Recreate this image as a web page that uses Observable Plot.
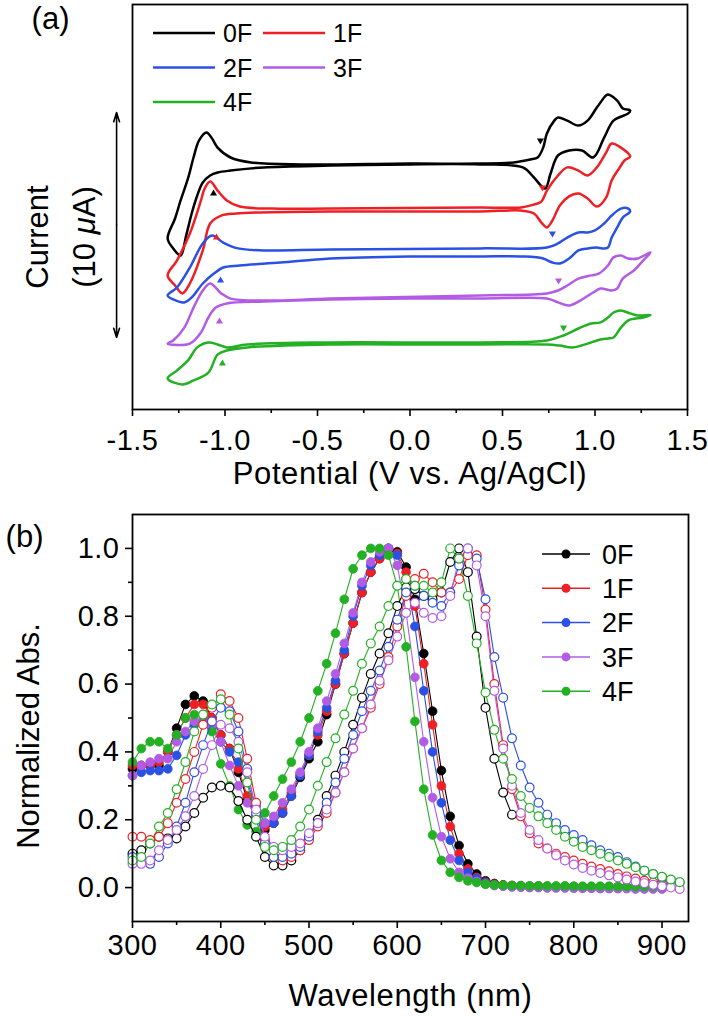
<!DOCTYPE html>
<html><head><meta charset="utf-8">
<script src="https://cdn.jsdelivr.net/npm/d3@7"></script>
<script src="https://cdn.jsdelivr.net/npm/@observablehq/plot@0.6"></script>
<style>
body{margin:0;background:#fff;}
#chart{width:708px;}
#chart svg{display:block;}
</style></head><body><div id="chart"></div>
<script>
const series = ["0F","1F","2F","3F","4F"];
const colors = ["#000000","#ef1f26","#2a50e4","#b25ce6","#23b023"];
const FONT = "'Liberation Sans', Arial, Helvetica, sans-serif";

// ---------- (a) cyclic voltammograms: [potential V, current µA (offset)] ----------
const cv0F = [[0.00,10.89],[-0.43,10.84],[-0.79,10.76],[-0.97,10.62],[-1.04,10.53],[-1.08,10.40],[-1.12,10.09],[-1.15,9.51],[-1.18,8.71],[-1.21,7.73],[-1.24,6.84],[-1.28,7.16],[-1.31,7.60],[-1.27,8.49],[-1.24,9.29],[-1.20,10.27],[-1.17,11.20],[-1.14,11.96],[-1.10,12.31],[-1.07,12.04],[-1.04,11.64],[-0.97,11.20],[-0.86,10.98],[-0.59,10.89],[0.00,10.93],[0.38,10.93],[0.56,10.98],[0.65,11.11],[0.69,11.20],[0.72,11.64],[0.74,12.27],[0.78,12.84],[0.80,12.98],[0.85,12.84],[0.91,12.62],[0.96,12.84],[1.01,13.42],[1.06,13.96],[1.07,14.00],[1.12,13.73],[1.15,13.38],[1.19,13.29],[1.18,13.16],[1.10,12.84],[1.05,12.09],[0.99,11.20],[0.93,11.51],[0.86,11.51],[0.80,11.29],[0.76,10.49],[0.73,9.82],[0.67,10.31],[0.61,10.76],[0.38,10.89],[0.00,10.89]];
const cv1F = [[0.00,8.80],[-0.43,8.80],[-0.81,8.76],[-0.94,8.71],[-1.02,8.62],[-1.08,8.27],[-1.12,7.07],[-1.19,5.60],[-1.23,5.16],[-1.27,5.51],[-1.31,5.96],[-1.26,6.62],[-1.19,7.82],[-1.13,9.29],[-1.11,9.82],[-1.08,10.13],[-1.04,9.73],[-0.99,9.29],[-0.92,9.02],[-0.75,8.93],[-0.43,8.93],[0.38,8.98],[0.60,8.98],[0.67,9.11],[0.71,9.24],[0.74,9.73],[0.80,10.40],[0.85,10.76],[0.91,10.62],[0.96,10.40],[1.01,10.76],[1.06,11.42],[1.09,11.82],[1.14,11.64],[1.19,11.24],[1.16,11.07],[1.13,10.71],[1.09,10.18],[1.06,9.42],[1.01,9.02],[0.96,9.38],[0.91,9.60],[0.86,9.47],[0.81,9.07],[0.77,8.40],[0.74,8.09],[0.71,8.31],[0.67,8.71],[0.60,8.84],[0.38,8.80],[0.00,8.80]];
const cv2F = [[0.00,6.80],[-0.43,6.71],[-0.70,6.53],[-0.92,6.40],[-1.01,6.31],[-1.06,6.04],[-1.12,5.60],[-1.18,4.98],[-1.22,4.76],[-1.28,4.89],[-1.31,5.07],[-1.26,5.42],[-1.19,6.31],[-1.12,7.38],[-1.07,7.73],[-1.01,7.42],[-0.93,7.16],[-0.79,7.07],[-0.43,7.11],[0.38,7.16],[0.74,7.20],[0.80,7.38],[0.85,7.64],[0.91,7.87],[0.96,7.87],[1.00,7.96],[1.05,8.27],[1.09,8.62],[1.14,8.93],[1.18,8.93],[1.19,8.80],[1.15,8.53],[1.12,8.09],[1.09,7.64],[1.07,7.20],[1.04,7.16],[1.01,7.20],[0.96,7.16],[0.91,7.07],[0.86,6.71],[0.81,6.49],[0.77,6.53],[0.72,6.71],[0.61,6.80],[0.38,6.80],[0.00,6.80]];
const cv3F = [[0.00,4.93],[-0.43,4.89],[-0.79,4.80],[-0.99,4.71],[-1.05,4.53],[-1.09,4.09],[-1.13,3.42],[-1.19,2.93],[-1.31,2.93],[-1.28,3.07],[-1.22,3.64],[-1.17,4.53],[-1.12,5.29],[-1.08,5.60],[-1.02,5.16],[-0.97,4.93],[-0.79,4.84],[-0.43,4.93],[0.38,5.07],[0.74,5.16],[0.80,5.29],[0.85,5.51],[0.91,5.82],[0.98,5.96],[1.02,6.04],[1.07,6.40],[1.10,6.76],[1.14,6.84],[1.18,6.71],[1.23,6.71],[1.30,6.98],[1.26,6.62],[1.21,6.18],[1.15,5.82],[1.12,5.38],[1.09,5.29],[1.03,5.38],[0.99,5.20],[0.92,4.84],[0.86,4.62],[0.80,4.76],[0.74,4.93],[0.38,4.93],[0.00,4.93]];
const cv4F = [[0.00,2.89],[-0.43,2.89],[-0.88,2.76],[-0.99,2.62],[-1.04,2.44],[-1.09,1.64],[-1.17,1.29],[-1.23,1.11],[-1.31,1.38],[-1.26,1.73],[-1.20,2.18],[-1.15,2.76],[-1.09,2.98],[-1.04,2.89],[-0.99,2.76],[-0.88,2.89],[-0.43,2.98],[0.38,2.98],[0.74,3.07],[0.83,3.29],[0.91,3.60],[0.98,3.82],[1.03,3.87],[1.07,4.09],[1.10,4.31],[1.14,4.40],[1.19,4.27],[1.23,4.18],[1.30,4.20],[1.26,4.09],[1.18,3.96],[1.14,3.64],[1.10,3.20],[1.07,3.16],[1.01,3.07],[0.96,2.93],[0.88,2.76],[0.81,2.84],[0.74,2.89],[0.38,2.89],[0.00,2.89]];
const cvAll = [cv0F, cv1F, cv2F, cv3F, cv4F];
// onset markers
const onsetOxV = [0.705, 0.716, 0.770, 0.803, 0.830];
const onsetOxI = [11.96, 9.87, 7.82, 5.73, 3.64];
const onsetRedV = [-1.062, -1.046, -1.024, -1.030, -1.014];
const onsetRedI = [9.60, 7.64, 5.73, 3.91, 2.04];
// scale bar (10 µA)
const scaleBarV = -1.586, scaleBarLow = 3.2, scaleBarSpan = 10;
const potTicks = [-1.5,-1.0,-0.5,0.0,0.5,1.0,1.5];
const potMinor = [-1.25,-0.75,-0.25,0.25,0.75,1.25];

// ---------- (b) absorption spectra ----------
const wavelengths = [300,310,320,330,340,350,360,370,380,390,400,410,420,430,440,450,460,470,480,490,500,510,520,530,540,550,560,570,580,590,600,610,620,630,640,650,660,670,680,690,700,710,720,730,740,750,760,770,780,790,800,810,820,830,840,850,860,870,880,890,900,910,920];
const sol0F = [0.35,0.36,0.36,0.36,0.40,0.47,0.54,0.565,0.55,0.50,0.45,0.41,0.34,0.26,0.21,0.17,0.19,0.22,0.27,0.325,0.38,0.43,0.51,0.60,0.69,0.78,0.87,0.93,0.97,1.0,0.99,0.945,0.85,0.69,0.52,0.345,0.21,0.124,0.07,0.04,0.02,0.012,0.008,0.006,0.005,0.004,0.004,0.003,0.003,0.003,0.003,0.002,0.002,0.002,0.002,0.002,0.002,0.001,0.001,0.001,0.001];
const sol1F = [0.36,0.36,0.36,0.37,0.40,0.45,0.50,0.54,0.54,0.50,0.45,0.41,0.35,0.27,0.21,0.18,0.19,0.23,0.28,0.335,0.39,0.45,0.52,0.60,0.69,0.78,0.87,0.93,0.97,1.0,0.985,0.93,0.83,0.66,0.48,0.30,0.18,0.10,0.055,0.03,0.016,0.01,0.007,0.005,0.004,0.003,0.003,0.003,0.002,0.002,0.002,0.002,0.002,0.001,0.001,0.001,0.001,0.001,0.0,0.0,0.0];
const sol2F = [0.33,0.34,0.345,0.345,0.35,0.39,0.45,0.48,0.49,0.47,0.43,0.40,0.37,0.31,0.24,0.19,0.19,0.22,0.27,0.33,0.39,0.46,0.53,0.61,0.70,0.80,0.89,0.95,0.98,1.0,0.98,0.91,0.77,0.58,0.40,0.25,0.14,0.08,0.045,0.027,0.014,0.008,0.005,0.003,0.002,0.001,0.001,0.0,0.0,0.0,-0.001,-0.001,-0.001,-0.002,-0.002,-0.002,-0.002,-0.003,-0.003,-0.003,-0.003];
const sol3F = [0.33,0.36,0.37,0.38,0.38,0.43,0.46,0.49,0.50,0.48,0.43,0.36,0.30,0.25,0.21,0.19,0.21,0.25,0.29,0.34,0.40,0.47,0.55,0.63,0.72,0.81,0.90,0.96,0.99,1.0,0.95,0.81,0.62,0.43,0.265,0.15,0.085,0.045,0.028,0.018,0.01,0.006,0.004,0.002,0.001,0.0,0.0,-0.001,-0.001,-0.001,-0.002,-0.002,-0.002,-0.003,-0.003,-0.003,-0.003,-0.004,-0.004,-0.004,-0.004];
const sol4F = [0.37,0.41,0.43,0.43,0.41,0.45,0.50,0.51,0.51,0.46,0.365,0.30,0.23,0.185,0.165,0.22,0.27,0.32,0.37,0.43,0.50,0.58,0.66,0.75,0.85,0.94,0.98,1.0,1.0,0.98,0.89,0.71,0.49,0.29,0.155,0.08,0.045,0.03,0.02,0.015,0.01,0.008,0.007,0.006,0.006,0.005,0.005,0.005,0.005,0.005,0.004,0.004,0.004,0.004,0.004,0.003,0.003,0.003,0.003,0.003,0.003];
const film0F = [0.10,0.11,0.13,0.15,0.145,0.145,0.18,0.22,0.265,0.295,0.30,0.295,0.255,0.20,0.15,0.09,0.065,0.065,0.08,0.11,0.15,0.20,0.27,0.33,0.40,0.48,0.56,0.63,0.69,0.75,0.83,0.885,0.88,0.86,0.85,0.87,0.96,1.0,0.93,0.74,0.53,0.38,0.28,0.215];
const film1F = [0.15,0.15,0.14,0.15,0.19,0.25,0.32,0.40,0.48,0.53,0.57,0.55,0.50,0.38,0.25,0.14,0.09,0.08,0.09,0.11,0.14,0.18,0.22,0.28,0.34,0.41,0.47,0.53,0.60,0.68,0.77,0.86,0.91,0.925,0.90,0.87,0.87,0.91,0.98,0.98,0.82,0.60,0.42,0.29,0.21,0.16,0.13,0.115,0.10,0.09,0.08,0.07,0.062,0.055,0.048,0.04,0.033,0.027,0.02,0.015,0.01];
const film2F = [0.09,0.08,0.07,0.09,0.13,0.18,0.25,0.34,0.42,0.49,0.53,0.52,0.46,0.35,0.22,0.13,0.09,0.09,0.10,0.12,0.15,0.19,0.25,0.31,0.38,0.45,0.52,0.58,0.64,0.71,0.79,0.87,0.89,0.86,0.84,0.83,0.87,0.95,1.0,0.97,0.85,0.68,0.56,0.44,0.36,0.295,0.25,0.215,0.19,0.17,0.155,0.14,0.125,0.11,0.10,0.09,0.075,0.062,0.05,0.04,0.03,0.022,0.015];
const film3F = [0.07,0.07,0.08,0.11,0.14,0.17,0.21,0.27,0.35,0.42,0.48,0.47,0.43,0.34,0.23,0.15,0.12,0.11,0.12,0.13,0.16,0.19,0.23,0.28,0.34,0.41,0.47,0.54,0.61,0.67,0.74,0.81,0.84,0.81,0.795,0.80,0.86,0.97,1.0,0.95,0.80,0.58,0.41,0.30,0.22,0.17,0.14,0.115,0.095,0.08,0.068,0.058,0.05,0.043,0.036,0.03,0.024,0.018,0.013,0.008,0.004,0.0,-0.004];
const film4F = [0.08,0.09,0.13,0.18,0.22,0.29,0.37,0.46,0.51,0.54,0.555,0.51,0.41,0.31,0.20,0.12,0.11,0.12,0.14,0.18,0.23,0.30,0.37,0.44,0.51,0.58,0.66,0.72,0.77,0.83,0.89,0.91,0.89,0.89,0.87,0.90,1.0,0.97,0.86,0.72,0.575,0.465,0.38,0.32,0.27,0.235,0.21,0.19,0.17,0.15,0.135,0.12,0.11,0.10,0.09,0.08,0.07,0.06,0.05,0.04,0.032,0.024,0.016];
const solAll = [sol0F, sol1F, sol2F, sol3F, sol4F];
const filmAll = [film0F, film1F, film2F, film3F, film4F];
const wlTicks = [300,400,500,600,700,800,900];
const wlMinor = [350,450,550,650,750,850];
const absTicks = [0.0,0.2,0.4,0.6,0.8,1.0];
const absMinor = [0.1,0.3,0.5,0.7,0.9];

// ---------- build tables ----------
const cvRows = series.flatMap((s,k) => cvAll[k].map(([v,i]) => ({s, v, i})));
const oxRows = series.map((s,k) => ({s, v: onsetOxV[k], i: onsetOxI[k]}));
const redRows = series.map((s,k) => ({s, v: onsetRedV[k], i: onsetRedI[k]}));
const barMid = scaleBarLow + scaleBarSpan/2;
const barRows = [{y1: barMid, y2: scaleBarLow + scaleBarSpan}, {y1: barMid, y2: scaleBarLow}];
const solRows = series.flatMap((s,k) => solAll[k].map((a,j) => ({s, w: wavelengths[j], a})));
const filmRows = series.flatMap((s,k) => filmAll[k].map((a,j) => ({s, w: wavelengths[j], a})));

const hasAxis = typeof Plot.axisX === "function";
const styleObj = {fontFamily: FONT, fontSize: "29px", color: "#000", background: "#fff", overflow: "visible"};
const T = {textAnchor: "middle", lineAnchor: "middle", fontSize: 31};
const TICKFS = 29;

const plotA = Plot.plot({
  width: 708, height: 500,
  marginLeft: 132, marginRight: 21, marginTop: 4, marginBottom: 91,
  x: {domain: [-1.5, 1.5], ...(hasAxis ? {} : {ticks: potTicks, tickFormat: d => d.toFixed(1), tickSize: 7, tickPadding: 14, label: null})},
  y: {domain: [0, 18], axis: null},
  color: {domain: series, range: colors},
  style: styleObj,
  marks: [
    ...(hasAxis ? [
      Plot.axisX({ticks: potTicks, tickSize: 7, tickPadding: 13, tickFormat: d => d.toFixed(1), label: null, strokeWidth: 1.6, fontSize: TICKFS}),
      Plot.axisX({ticks: potMinor, tickSize: 4, tickFormat: () => "", label: null, strokeWidth: 1.6})
    ] : []),
    Plot.line(cvRows, {x: "v", y: "i", z: "s", stroke: "s", strokeWidth: 2.5, curve: "catmull-rom"}),
    Plot.dot(oxRows, {x: "v", y: "i", fill: "s", symbol: "triangle", r: 2.6, rotate: 180, stroke: null}),
    Plot.dot(redRows, {x: "v", y: "i", fill: "s", symbol: "triangle", r: 2.6, stroke: null}),
    Plot.arrow(barRows, {x1: scaleBarV, x2: scaleBarV, y1: "y1", y2: "y2", strokeWidth: 1.6, headLength: 9, headAngle: 35, stroke: "#000"}),
    Plot.frame({strokeWidth: 1.8}),
    Plot.text(["Potential (V vs. Ag/AgCl)"], {...T, frameAnchor: "bottom", dy: 65}),
    Plot.text(["Current"], {...T, frameAnchor: "left", dx: -94, dy: 30, rotate: -90}),
    Plot.text(["(10 μA)"], {...T, frameAnchor: "left", dx: -47, dy: 30, rotate: -90}),
    Plot.text(["(a)"], {...T, frameAnchor: "top-left", dx: -82, dy: 15})
  ]
});

const plotB = Plot.plot({
  width: 708, height: 516,
  marginLeft: 132, marginRight: 20, marginTop: 14, marginBottom: 95,
  x: {domain: [300, 930], ...(hasAxis ? {} : {ticks: wlTicks, tickSize: 7, tickPadding: 7, label: null})},
  y: {domain: [-0.1, 1.1], ...(hasAxis ? {} : {ticks: absTicks, tickFormat: d => d.toFixed(1), tickSize: 7, tickPadding: 6, label: null})},
  color: {domain: series, range: colors},
  style: styleObj,
  marks: [
    ...(hasAxis ? [
      Plot.axisX({ticks: wlTicks, tickSize: 7, tickPadding: 6, tickFormat: d => String(d), label: null, strokeWidth: 1.6, fontSize: TICKFS}),
      Plot.axisX({ticks: wlMinor, tickSize: 4, tickFormat: () => "", label: null, strokeWidth: 1.6}),
      Plot.axisY({ticks: absTicks, tickSize: 7, tickPadding: 6, tickFormat: d => d.toFixed(1), label: null, strokeWidth: 1.6, fontSize: TICKFS}),
      Plot.axisY({ticks: absMinor, tickSize: 4, tickFormat: () => "", label: null, strokeWidth: 1.6})
    ] : []),
    Plot.line(solRows, {x: "w", y: "a", z: "s", stroke: "s", strokeWidth: 1.1}),
    Plot.dot(solRows, {x: "w", y: "a", fill: "s", stroke: "s", r: 4.4, strokeWidth: 0.8}),
    Plot.line(filmRows, {x: "w", y: "a", z: "s", stroke: "s", strokeWidth: 1.1}),
    Plot.dot(filmRows, {x: "w", y: "a", fill: "white", stroke: "s", r: 4.4, strokeWidth: 1.2}),
    Plot.frame({strokeWidth: 1.8}),
    Plot.text(["Wavelength (nm)"], {...T, frameAnchor: "bottom", dy: 75}),
    Plot.text(["Normalized Abs."], {...T, frameAnchor: "left", dx: -103, dy: 18, rotate: -90}),
    Plot.text(["(b)"], {...T, frameAnchor: "top-left", dx: -108, dy: 23})
  ]
});

// tick label sizing (force) and title spacing
for (const svg of [plotA, plotB]) {
  const s = d3.select(svg);
  s.selectAll("text").filter(function(){ return /^[-−]?\d+(\.\d+)?$/.test(this.textContent.trim()); })
    .attr("font-size", TICKFS).style("font-size", TICKFS + "px").style("letter-spacing", "0.5px");
  s.selectAll("text").filter(function(){ return /Potential|Wavelength/.test(this.textContent); })
    .style("letter-spacing", "0.6px");
}

// italic µ
d3.select(plotA).selectAll("text").filter(function(){ return this.textContent === "(10 μA)"; }).each(function(){
  const t = d3.select(this); t.text(null);
  t.append("tspan").text("(10 ");
  t.append("tspan").attr("font-style", "italic").text("μ");
  t.append("tspan").text("A)");
});

// legend (a)
const legA = d3.select(plotA).append("g").attr("font-family", FONT).attr("font-size", 25).attr("text-anchor", "start");
series.forEach((s,k) => {
  const col = k % 2, row = Math.floor(k / 2);
  const x0 = 153 + col * 110, y0 = 33 + row * 34.5;
  legA.append("line").attr("x1", x0).attr("x2", x0 + 62).attr("y1", y0).attr("y2", y0).attr("stroke", colors[k]).attr("stroke-width", 2.6);
  legA.append("text").attr("x", x0 + 70).attr("y", y0).attr("dy", "0.36em").attr("fill", "#000").text(s);
});
// legend (b)
const legB = d3.select(plotB).append("g").attr("font-family", FONT).attr("font-size", 27).attr("text-anchor", "start");
series.forEach((s,k) => {
  const y0 = 54 + k * 34.3;
  legB.append("line").attr("x1", 542).attr("x2", 590).attr("y1", y0).attr("y2", y0).attr("stroke", colors[k]).attr("stroke-width", 1.5);
  legB.append("circle").attr("cx", 566).attr("cy", y0).attr("r", 4.5).attr("fill", colors[k]);
  legB.append("text").attr("x", 602).attr("y", y0).attr("dy", "0.36em").attr("fill", "#000").text(s);
});

document.getElementById("chart").append(plotA, plotB);
</script>
</body></html>
